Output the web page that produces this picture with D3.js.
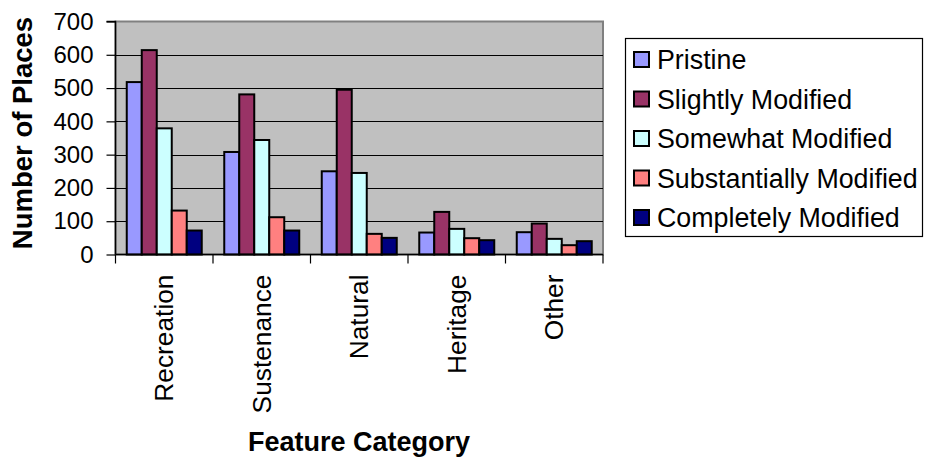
<!DOCTYPE html>
<html>
<head>
<meta charset="utf-8">
<script src="https://cdn.jsdelivr.net/npm/d3@7"></script>
<style>
  html, body { margin: 0; padding: 0; background: #fff; }
  svg { display: block; font-family: "Liberation Sans", Arial, sans-serif; }
</style>
</head>
<body>
<svg id="chart" width="925" height="460"></svg>
<script>
const categories = ["Recreation", "Sustenance", "Natural", "Heritage", "Other"];
const seriesNames = ["Pristine", "Slightly Modified", "Somewhat Modified", "Substantially Modified", "Completely Modified"];
const seriesColors = ["#9999FF", "#993366", "#CCFFFF", "#FF8080", "#000080"];
const pristine = [518, 308, 250, 66, 67];
const slightly = [614, 481, 495, 128, 93];
const somewhat = [379, 344, 245, 77, 47];
const substantially = [132, 112, 62, 49, 28];
const completely = [72, 72, 50, 43, 40];
const yTicks = [0, 100, 200, 300, 400, 500, 600, 700];
const yTitle = "Number of Places";
const xTitle = "Feature Category";

const seriesValues = [pristine, slightly, somewhat, substantially, completely];

const svg = d3.select("#chart");
const plot = { left: 115.5, right: 603, top: 21.5, bottom: 254.5 };

const x0 = d3.scaleBand().domain(categories).range([plot.left, plot.right]).padding(0);
const x1 = d3.scaleBand().domain(seriesNames).range([0, x0.bandwidth()]).paddingInner(0).paddingOuter(0.75);
const y = d3.scaleLinear().domain([0, 700]).range([plot.bottom, plot.top]);

// plot background
svg.append("rect")
  .attr("x", plot.left).attr("y", plot.top)
  .attr("width", plot.right - plot.left).attr("height", plot.bottom - plot.top)
  .attr("fill", "#C0C0C0").attr("stroke", "#808080").attr("stroke-width", 2);

// gridlines
svg.append("g").selectAll("line")
  .data(yTicks.filter(t => t > 0 && t < 700))
  .join("line")
  .attr("x1", plot.left).attr("x2", plot.right)
  .attr("y1", d => Math.round(y(d)) + 0.5).attr("y2", d => Math.round(y(d)) + 0.5)
  .attr("stroke", "#000").attr("stroke-width", 1);

// bars
const groups = svg.append("g").selectAll("g")
  .data(categories)
  .join("g")
  .attr("transform", d => `translate(${x0(d)},0)`);

groups.selectAll("rect")
  .data((c, ci) => seriesNames.map((s, si) => ({ s, si, v: seriesValues[si][ci] })))
  .join("rect")
  .attr("x", d => x1(d.s))
  .attr("width", x1.bandwidth())
  .attr("y", d => y(d.v))
  .attr("height", d => y(0) - y(d.v))
  .attr("fill", d => seriesColors[d.si])
  .attr("stroke", "#000")
  .attr("stroke-width", 2);

// y axis
const yAxis = d3.axisLeft(y).tickValues(yTicks).tickSize(9).tickPadding(13).tickFormat(d3.format("d"));
const gy = svg.append("g").attr("transform", `translate(${plot.left},0)`).call(yAxis);
gy.select(".domain").attr("stroke", "#000").attr("stroke-width", 1.5).attr("d", `M-9,${plot.top}H0V${plot.bottom}`);
gy.selectAll(".tick line").attr("stroke", "#000").attr("stroke-width", 1.2);
gy.selectAll(".tick text").attr("font-size", 24).attr("fill", "#000")
  .attr("font-family", "'Liberation Sans', Arial, sans-serif");

// x axis
const xAxis = d3.axisBottom(x0).tickSize(0).tickPadding(0);
const gx = svg.append("g").attr("transform", `translate(0,${plot.bottom})`).call(xAxis);
gx.select(".domain").attr("stroke", "#000").attr("stroke-width", 1.5).attr("d", `M${plot.left},0H${plot.right}`);
gx.selectAll(".tick text")
  .attr("font-size", 26.3).attr("fill", "#000")
  .attr("font-family", "'Liberation Sans', Arial, sans-serif")
  .attr("transform", "rotate(-90)")
  .attr("text-anchor", "end")
  .attr("x", -20).attr("y", 0).attr("dy", "0.35em");
// boundary ticks
const bounds = categories.map(c => x0(c)).concat([plot.right]);
gx.append("g").selectAll("line").data(bounds).join("line")
  .attr("x1", d => d).attr("x2", d => d).attr("y1", 0).attr("y2", 9)
  .attr("stroke", "#000").attr("stroke-width", 1.2);

// axis titles
svg.append("text")
  .attr("transform", `translate(32,${(plot.top + plot.bottom) / 2 - 5}) rotate(-90)`)
  .attr("text-anchor", "middle")
  .attr("font-size", 27.5).attr("font-weight", "bold").attr("fill", "#000")
  .text(yTitle);

svg.append("text")
  .attr("x", 359).attr("y", 451)
  .attr("text-anchor", "middle")
  .attr("font-size", 27).attr("font-weight", "bold").attr("fill", "#000")
  .text(xTitle);

// legend
const lg = svg.append("g");
lg.append("rect").attr("x", 625.5).attr("y", 38.5).attr("width", 297).attr("height", 198)
  .attr("fill", "#fff").attr("stroke", "#000").attr("stroke-width", 1.2);
const items = lg.selectAll("g.item").data(seriesNames).join("g")
  .attr("class", "item")
  .attr("transform", (d, i) => `translate(0,${59.5 + i * 39.5})`);
items.append("rect").attr("x", 634).attr("y", -7.5).attr("width", 15).attr("height", 15)
  .attr("fill", (d, i) => seriesColors[i]).attr("stroke", "#000").attr("stroke-width", 2);
items.append("text").attr("x", 657).attr("y", 0).attr("dy", "0.36em")
  .attr("font-size", 26.8).attr("fill", "#000").text(d => d);
</script>
</body>
</html>
